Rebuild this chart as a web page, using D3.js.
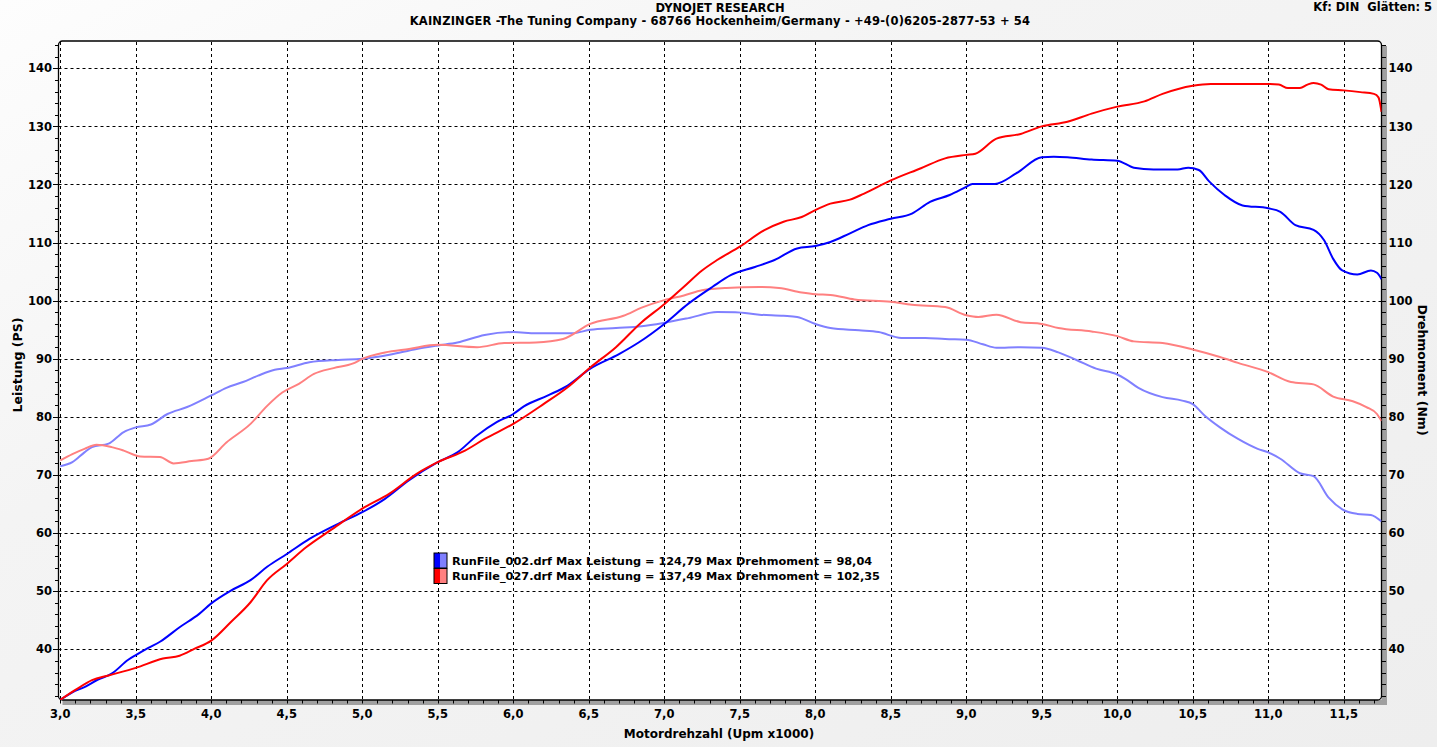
<!DOCTYPE html>
<html><head><meta charset="utf-8">
<script src="https://cdn.jsdelivr.net/npm/d3@7"></script>
<style>
body{margin:0;overflow:hidden;background:#f0f0f0}
svg{display:block}
text{font-family:"DejaVu Sans",Verdana,sans-serif;font-weight:bold;fill:#000}
</style>
</head><body><svg id="c" width="1437" height="747"></svg>
<script>
// ---- data ----
const titleMain = "DYNOJET RESEARCH";
const titleSub = "KAINZINGER -The Tuning Company - 68766 Hockenheim/Germany - +49-(0)6205-2877-53 + 54";
const titleRight = "Kf: DIN  Glätten: 5";
const xAxisTitle = "Motordrehzahl (Upm x1000)";
const yLeftTitle = "Leistung (PS)";
const yRightTitle = "Drehmoment (Nm)";
const xTickValues = [3.0,3.5,4.0,4.5,5.0,5.5,6.0,6.5,7.0,7.5,8.0,8.5,9.0,9.5,10.0,10.5,11.0,11.5];
const xTickLabels = ["3,0","3,5","4,0","4,5","5,0","5,5","6,0","6,5","7,0","7,5","8,0","8,5","9,0","9,5","10,0","10,5","11,0","11,5"];
const yTickValues = [40,50,60,70,80,90,100,110,120,130,140];
const legendLabels = [
  "RunFile_002.drf Max Leistung = 124,79 Max Drehmoment = 98,04",
  "RunFile_027.drf Max Leistung = 137,49 Max Drehmoment = 102,35"
];

// RunFile_002 power (PS)
const run002PowerRpm = [3.00,3.08,3.16,3.25,3.34,3.45,3.50,3.58,3.66,3.79,3.92,4.00,4.13,4.26,4.37,4.50,4.65,4.84,5.00,5.15,5.31,5.50,5.63,5.76,5.89,6.00,6.07,6.23,6.36,6.51,6.70,6.83,7.00,7.16,7.32,7.44,7.60,7.73,7.88,8.00,8.10,8.23,8.35,8.50,8.64,8.76,8.89,9.00,9.04,9.19,9.33,9.50,9.58,9.67,9.83,10.00,10.11,10.24,10.40,10.47,10.54,10.61,10.71,10.83,11.00,11.08,11.18,11.30,11.37,11.43,11.49,11.59,11.68,11.72,11.75];
const run002Power    = [31.3,32.6,33.5,34.8,35.8,38.2,39.0,40.2,41.3,43.8,46.1,47.9,50.1,51.9,54.2,56.4,59.0,61.6,63.6,65.9,69.1,72.2,73.9,76.8,79.1,80.5,81.8,83.7,85.4,88.3,90.8,92.8,96.0,99.5,102.4,104.4,105.8,107.0,109.0,109.4,110.1,111.6,113.0,114.1,115.0,117.0,118.2,119.6,120.1,120.1,121.9,124.7,124.79,124.7,124.3,124.1,122.9,122.6,122.6,122.9,122.5,120.5,118.2,116.4,115.9,115.3,113.0,112.2,110.4,107.2,105.2,104.5,105.2,104.8,103.7];
// RunFile_002 torque (Nm)
const run002TorqueRpm = [3.00,3.08,3.16,3.21,3.32,3.42,3.50,3.60,3.71,3.84,4.00,4.10,4.21,4.31,4.42,4.50,4.65,4.84,5.00,5.18,5.36,5.50,5.63,5.81,6.00,6.15,6.39,6.51,6.68,6.85,7.00,7.16,7.35,7.47,7.63,7.79,7.88,8.01,8.10,8.29,8.42,8.57,8.73,8.86,9.00,9.11,9.20,9.36,9.50,9.61,9.73,9.86,10.00,10.05,10.14,10.30,10.43,10.50,10.58,10.68,10.80,10.93,11.00,11.08,11.21,11.30,11.40,11.49,11.59,11.68,11.75];
const run002Torque    = [71.5,72.2,73.9,74.8,75.4,77.4,78.2,78.7,80.5,81.7,83.7,85.0,86.0,87.1,88.1,88.4,89.4,89.8,90.0,90.7,91.7,92.3,92.8,94.1,94.6,94.4,94.4,95.0,95.3,95.6,96.2,97.0,98.04,98.0,97.6,97.4,97.2,95.9,95.3,94.9,94.6,93.6,93.6,93.4,93.3,92.5,91.9,92.0,91.9,91.1,89.8,88.3,87.3,86.6,85.0,83.4,82.8,82.2,80.2,78.2,76.2,74.5,73.9,72.8,70.3,69.8,66.1,64.1,63.3,63.1,62.0];
// RunFile_027 power (PS)
const run027PowerRpm = [3.00,3.10,3.21,3.32,3.50,3.68,3.79,3.89,4.00,4.13,4.26,4.37,4.50,4.63,4.79,5.00,5.18,5.36,5.50,5.68,5.81,6.00,6.20,6.36,6.51,6.68,6.85,7.00,7.13,7.25,7.35,7.50,7.66,7.79,7.91,8.00,8.10,8.23,8.32,8.50,8.70,8.86,9.00,9.06,9.20,9.36,9.50,9.67,9.83,10.00,10.18,10.30,10.50,10.62,10.80,11.00,11.07,11.13,11.21,11.26,11.30,11.35,11.40,11.50,11.61,11.70,11.73,11.75];
const run027Power    = [31.3,33.0,34.7,35.5,36.8,38.4,38.9,40.1,41.5,44.7,48.1,51.9,54.7,57.6,60.5,64.2,66.8,70.2,72.2,74.2,76.2,78.8,82.2,85.1,88.5,92.0,96.3,99.4,102.4,105.2,107.0,109.3,112.1,113.6,114.4,115.6,116.7,117.4,118.4,120.7,122.8,124.5,125.1,125.3,127.9,128.7,130.0,130.8,132.2,133.4,134.3,135.6,137.0,137.3,137.3,137.3,137.2,136.6,136.6,137.2,137.49,137.2,136.4,136.2,135.9,135.6,135.0,132.5];
// RunFile_027 torque (Nm)
const run027TorqueRpm = [3.00,3.08,3.16,3.24,3.34,3.42,3.53,3.66,3.75,3.87,3.98,4.10,4.26,4.37,4.47,4.58,4.68,4.81,4.94,5.00,5.15,5.31,5.50,5.76,5.94,6.15,6.33,6.51,6.73,6.85,7.00,7.13,7.25,7.41,7.63,7.76,7.91,8.00,8.10,8.26,8.50,8.64,8.86,9.00,9.08,9.20,9.36,9.50,9.61,9.83,10.00,10.11,10.30,10.50,10.68,10.80,11.00,11.15,11.30,11.43,11.56,11.65,11.72,11.75];
const run027Torque    = [72.5,73.6,74.5,75.2,74.8,74.2,73.2,73.1,72.0,72.4,72.8,75.6,78.8,81.9,84.2,85.7,87.4,88.4,89.2,90.0,91.1,91.7,92.4,92.0,92.7,92.8,93.4,96.0,97.4,98.8,100.1,100.9,101.8,102.2,102.35,102.2,101.4,101.1,101.0,100.2,99.8,99.3,98.9,97.5,97.2,97.6,96.3,96.0,95.3,94.7,93.9,93.0,92.7,91.6,90.3,89.3,87.7,86.0,85.6,83.5,82.7,81.7,80.5,79.3];

const seriesColors = {run002Power:"#0000ff", run002Torque:"#8080ff", run027Power:"#ff0000", run027Torque:"#ff8080"};

// ---- layout ----
const svg = d3.select("#c");
const W = 1437, H = 747;
const plot = {left:58.5, top:41, right:1381.5, bottom:700};

const x = d3.scaleLinear().domain([3.0, 11.75]).range([60.3, 1381.5]);
const y = d3.scaleLinear().domain([40, 140]).range([649.3, 68.3]);

// background gradient
const defs = svg.append("defs");
const bg = defs.append("linearGradient").attr("id","bg").attr("x1","0").attr("y1","0").attr("x2","1").attr("y2","1");
bg.append("stop").attr("offset","0").attr("stop-color","#fdfdfd");
bg.append("stop").attr("offset","0.35").attr("stop-color","#f4f4f4");
bg.append("stop").attr("offset","1").attr("stop-color","#eeeeee");
svg.append("rect").attr("width",W).attr("height",H).attr("fill","url(#bg)");

defs.append("clipPath").attr("id","clip").append("rect")
  .attr("x",plot.left).attr("y",plot.top).attr("width",plot.right-plot.left).attr("height",plot.bottom-plot.top);

// shadow bands
svg.append("rect").attr("x",plot.right).attr("y",plot.top+5).attr("width",5.5).attr("height",plot.bottom-plot.top)
  .attr("fill","#a0a0a0");
svg.append("rect").attr("x",plot.left+4).attr("y",plot.bottom).attr("width",plot.right-plot.left+1.5).attr("height",5)
  .attr("fill","#a0a0a0");

// plot area
svg.append("rect").attr("x",plot.left).attr("y",plot.top).attr("width",plot.right-plot.left).attr("height",plot.bottom-plot.top)
  .attr("rx",4).attr("fill","#ffffff").attr("stroke","#000").attr("stroke-width",1.3);

// grid
const grid = svg.append("g").attr("stroke","#000").attr("stroke-width",1).attr("stroke-dasharray","3,3");
grid.selectAll("line.v").data(xTickValues).join("line")
  .attr("x1",d=>Math.round(x(d))+0.5).attr("x2",d=>Math.round(x(d))+0.5)
  .attr("y1",plot.top+1).attr("y2",plot.bottom);
grid.selectAll("line.h").data(yTickValues).join("line")
  .attr("y1",d=>Math.round(y(d))+0.5).attr("y2",d=>Math.round(y(d))+0.5)
  .attr("x1",plot.left).attr("x2",plot.right);

// left axis ticks
const minorY = d3.range(32, 145, 2);
const axL = svg.append("g").attr("stroke","#000").attr("stroke-width",1);
axL.selectAll("line").data(minorY).join("line")
  .attr("x1",d=> d%10===0 ? 53 : 55).attr("x2",plot.left)
  .attr("y1",d=>Math.round(y(d))+0.5).attr("y2",d=>Math.round(y(d))+0.5);
// right axis ticks (on shadow band)
const axR = svg.append("g").attr("stroke","#000").attr("stroke-width",1);
axR.selectAll("line").data(minorY).join("line")
  .attr("x1",plot.right).attr("x2",plot.right+4.5)
  .attr("y1",d=>Math.round(y(d))+0.5).attr("y2",d=>Math.round(y(d))+0.5);
// bottom ticks
const minorX = d3.range(30, 118, 1).map(v=>v/10);
const axB = svg.append("g").attr("stroke","#000").attr("stroke-width",1);
axB.selectAll("line").data(minorX).join("line")
  .attr("x1",d=>Math.round(x(d))+0.5).attr("x2",d=>Math.round(x(d))+0.5)
  .attr("y1",plot.bottom).attr("y2",plot.bottom+3.5);

// tick labels
const FS = 11.5;
svg.append("g").selectAll("text").data(yTickValues).join("text")
  .attr("x",52).attr("y",d=>y(d)).attr("dy","0.36em").attr("text-anchor","end")
  .attr("font-size",FS).text(d=>d);
svg.append("g").selectAll("text").data(yTickValues).join("text")
  .attr("x",1388.5).attr("y",d=>y(d)).attr("dy","0.36em").attr("text-anchor","start")
  .attr("font-size",FS).text(d=>d);
svg.append("g").selectAll("text").data(xTickValues).join("text")
  .attr("x",d=>x(d)).attr("y",714).attr("dy","0.36em").attr("text-anchor","middle")
  .attr("font-size",FS).text((d,i)=>xTickLabels[i]);

// titles
svg.append("text").attr("x",720).attr("y",8).attr("dy","0.36em").attr("text-anchor","middle").attr("font-size",FS).text(titleMain);
svg.append("text").attr("x",720).attr("y",21).attr("dy","0.36em").attr("text-anchor","middle").attr("font-size",FS)
  .attr("letter-spacing",0.17).text(titleSub);
svg.append("text").attr("x",1432).attr("y",7).attr("dy","0.36em").attr("text-anchor","end").attr("font-size",FS)
  .attr("xml:space","preserve").style("white-space","pre").text(titleRight);
svg.append("text").attr("x",719).attr("y",734).attr("dy","0.36em").attr("text-anchor","middle").attr("font-size",12).text(xAxisTitle);
svg.append("text").attr("transform","translate(17,365) rotate(-90)").attr("dy","0.36em").attr("text-anchor","middle").attr("font-size",12.5).text(yLeftTitle);
svg.append("text").attr("transform","translate(1422,370) rotate(90)").attr("dy","0.36em").attr("text-anchor","middle").attr("font-size",12.5).text(yRightTitle);

// curves
const curves = svg.append("g").attr("clip-path","url(#clip)");
const line = d3.line().x(d=>x(d[0])).y(d=>y(d[1])).curve(d3.curveMonotoneX);
const series = [
  {rpm:run002TorqueRpm, v:run002Torque, c:seriesColors.run002Torque},
  {rpm:run027TorqueRpm, v:run027Torque, c:seriesColors.run027Torque},
  {rpm:run002PowerRpm, v:run002Power, c:seriesColors.run002Power},
  {rpm:run027PowerRpm, v:run027Power, c:seriesColors.run027Power}
];
series.forEach(s=>{
  curves.append("path").datum(s.rpm.map((r,i)=>[r,s.v[i]]))
    .attr("d",line).attr("fill","none").attr("stroke",s.c).attr("stroke-width",2)
    .attr("stroke-linejoin","round");
});

// legend
const legendDark = ["#0000ff","#ff0000"];
const legendLight = ["#8080ff","#ff8080"];
const lg = svg.append("g");
legendLabels.forEach((t,i)=>{
  const yy = 553 + i*15.5;
  lg.append("rect").attr("x",434).attr("y",yy).attr("width",6.5).attr("height",15).attr("fill",legendDark[i]);
  lg.append("rect").attr("x",440.5).attr("y",yy).attr("width",6.5).attr("height",15).attr("fill",legendLight[i]);
  lg.append("rect").attr("x",434).attr("y",yy).attr("width",13).attr("height",15).attr("fill","none").attr("stroke","#000").attr("stroke-width",1);
  lg.append("text").attr("x",452).attr("y",yy+7.5).attr("dy","0.36em").attr("font-size",11.3).text(t);
});
</script>
</body></html>
